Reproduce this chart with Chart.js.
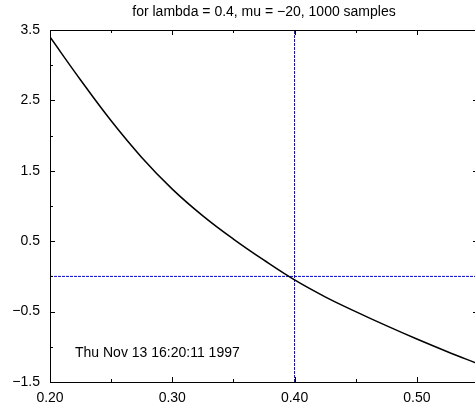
<!DOCTYPE html>
<html lang="en">
<head>
  <meta charset="UTF-8">
  <title>lambda / mu plot</title>
  <script src="https://cdn.jsdelivr.net/npm/chart.js"></script>
  <style>
    html, body { margin: 0; padding: 0; background: #fff; overflow: hidden; }
    #wrap { width: 480px; height: 408px; }
  </style>
</head>
<body>

  <div id="wrap">
    <canvas id="plot" width="480" height="408"></canvas>
  </div>

  <script>
    // values
    const xValues = [0.200, 0.225, 0.250, 0.275, 0.300, 0.325, 0.350, 0.375, 0.400, 0.425, 0.450, 0.475, 0.500, 0.525, 0.550];
    const yValues = [3.40, 2.79, 2.21, 1.69, 1.24, 0.86, 0.53, 0.23, -0.05, -0.29, -0.50, -0.70, -0.89, -1.07, -1.24];

    // dotted reference lines
    const refX = [0.4];
    const refY = [0];

    const xRange = [0.2, 0.55];
    const yRange = [-1.5, 3.5];

    const titleText = 'for lambda = 0.4, mu = \u221220, 1000 samples';
    const stampText = 'Thu Nov 13 16:20:11 1997';

    const FONT = "'Liberation Sans', Arial, Helvetica, sans-serif";

    function fmt(v, digits) {
      return v.toFixed(digits).replace('-', '\u2212');
    }

    // inward tick marks, frame and time stamp (gnuplot style)
    const framePlugin = {
      id: 'frame',
      afterDraw(chart) {
        const ctx = chart.ctx;
        const area = chart.chartArea;
        const xs = chart.scales.x;
        const ys = chart.scales.y;
        ctx.save();
        ctx.strokeStyle = '#000';
        ctx.lineWidth = 1;
        ctx.beginPath();
        xs.ticks.forEach(t => {
          const px = Math.round(xs.getPixelForValue(t.value)) + 0.5;
          const len = Math.round(t.value * 100) % 10 === 0 ? 5 : 3;
          ctx.moveTo(px, area.bottom); ctx.lineTo(px, area.bottom - len);
          ctx.moveTo(px, area.top); ctx.lineTo(px, area.top + len);
        });
        ys.ticks.forEach(t => {
          const py = Math.round(ys.getPixelForValue(t.value)) + 0.5;
          const len = Math.abs(Math.round(t.value * 2)) % 2 === 1 ? 5 : 3;
          ctx.moveTo(area.left, py); ctx.lineTo(area.left + len, py);
          ctx.moveTo(area.right, py); ctx.lineTo(area.right - len, py);
        });
        ctx.stroke();
        ctx.strokeRect(Math.round(area.left) + 0.5, Math.round(area.top) + 0.5,
          Math.round(area.right - area.left), Math.round(area.bottom - area.top));

        ctx.fillStyle = '#000';
        ctx.font = '14px ' + FONT;
        ctx.textAlign = 'left';
        ctx.textBaseline = 'middle';
        ctx.fillText(stampText, area.left + 25, area.bottom - 29);
        ctx.restore();
      }
    };

    const curve = xValues.map((x, i) => ({ x: x, y: yValues[i] }));
    const hLine = refY.map(y => [{ x: xRange[0], y: y }, { x: xRange[1], y: y }])[0];
    const vLine = refX.map(x => [{ x: x, y: yRange[0] }, { x: x, y: yRange[1] }])[0];

    const ctx = document.getElementById('plot').getContext('2d');
    const chart = new Chart(ctx, {
      type: 'line',
      data: {
        datasets: [
          {
            label: 'curve',
            data: curve,
            borderColor: '#000',
            borderWidth: 1.5,
            pointRadius: 0,
            tension: 0.4,
            fill: false,
            order: 0
          },
          {
            label: 'y = 0',
            data: hLine,
            borderColor: '#0000ee',
            borderWidth: 1,
            borderDash: [3, 1],
            pointRadius: 0,
            fill: false,
            order: 1
          },
          {
            label: 'x = 0.4',
            data: vLine,
            borderColor: '#0000ee',
            borderWidth: 1,
            borderDash: [3, 1],
            pointRadius: 0,
            fill: false,
            order: 1
          }
        ]
      },
      options: {
        responsive: false,
        animation: false,
        events: [],
        layout: { padding: { left: 0, right: 2, top: 0, bottom: 0 } },
        plugins: {
          legend: { display: false },
          tooltip: { enabled: false },
          title: {
            display: true,
            text: titleText,
            fullSize: false,
            color: '#000',
            font: { family: FONT, size: 14, weight: 'normal' },
            padding: { top: 4, bottom: 9.2 }
          }
        },
        scales: {
          x: {
            type: 'linear',
            min: xRange[0],
            max: xRange[1],
            grid: { display: false, drawTicks: false },
            border: { display: false },
            ticks: {
              stepSize: 0.05,
              autoSkip: false,
              maxRotation: 0,
              padding: 8,
              color: '#000',
              font: { family: FONT, size: 14 },
              callback: v => (Math.round(v * 100) % 10 === 0 ? v.toFixed(2) : '')
            },
            afterFit: scale => {
              scale.height = 26;
              scale.paddingLeft = 0;
              scale.paddingRight = 0;
            }
          },
          y: {
            min: yRange[0],
            max: yRange[1],
            grid: { display: false, drawTicks: false },
            border: { display: false },
            ticks: {
              stepSize: 0.5,
              autoSkip: false,
              padding: 10,
              color: '#000',
              font: { family: FONT, size: 14 },
              callback: v => (Math.abs(Math.round(v * 2)) % 2 === 1 ? fmt(v, 1) : '')
            },
            afterFit: scale => {
              scale.width = 50;
              scale.paddingTop = 0;
              scale.paddingBottom = 0;
            }
          }
        }
      },
      plugins: [framePlugin]
    });
  </script>

</body>
</html>
